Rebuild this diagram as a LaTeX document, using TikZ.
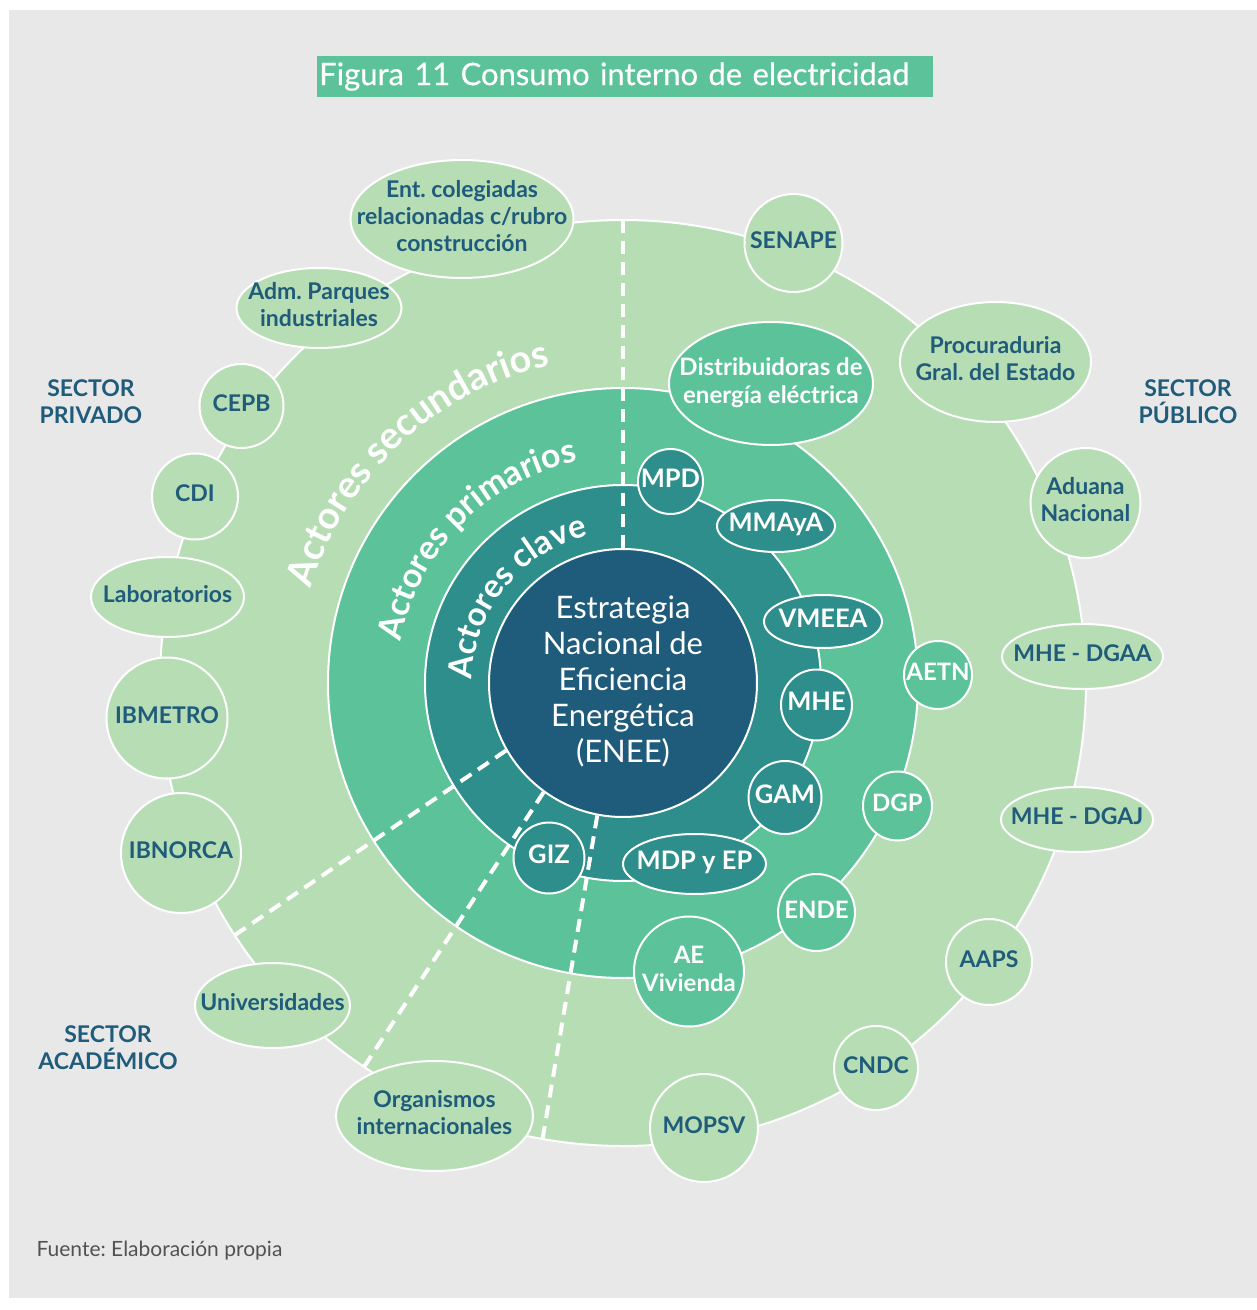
\documentclass[tikz,border=0pt]{standalone}
\usepackage{fontspec}
\setmainfont{Lato}
\newfontfamily\titlefont[FakeBold=0.5, WordSpace=0.8]{Lato}
\usetikzlibrary{shapes.geometric, decorations.text}
\definecolor{paper}{HTML}{E8E8E8}
\definecolor{leaf}{HTML}{B7DDB5}
\definecolor{mint}{HTML}{5CC29A}
\definecolor{sea}{HTML}{2D8E8C}
\definecolor{ink}{HTML}{1F5B7A}
\newcommand{\zw}[1]{\makebox[0pt]{\begin{tabular}{@{}c@{}}#1\end{tabular}}}
\frenchspacing
\tikzset{
    ring-edge/.style = {draw=white, line width=2pt},
    disc/.style = {circle, minimum size=#1},
    oval/.style 2 args = {ellipse, minimum width=#1, minimum height=#2},
    outer-actor/.style = {draw=white, line width=2pt, fill=leaf, text=ink, inner sep=0pt, font=\fontsize{23}{27}\selectfont\bfseries},
    prim-actor/.style = {draw=white, line width=2pt, fill=mint, text=white, inner sep=0pt, font=\fontsize{24}{28}\selectfont\bfseries},
    key-actor/.style = {draw=white, line width=2pt, fill=sea, text=white, inner sep=0pt, font=\fontsize{25.5}{28}\selectfont\bfseries},
    core/.style = {circle, minimum size=268, draw=white, line width=2pt, fill=ink, text=white, inner sep=0pt, font=\fontsize{31}{36}\selectfont},
    split-line/.style = {white, line width=4pt, dash pattern=on 13pt off 8pt},
    sector-label/.style = {text=ink, align=center, font=\fontsize{23}{27}\selectfont\bfseries},
    title-bar/.style = {fill=mint, text=white, font=\titlefont\fontsize{31}{31}\selectfont, minimum height=41, text width=612, align=left, inner xsep=2pt, inner ysep=0pt},
}

\begin{document}
\begin{tikzpicture}[x=1pt, y=1pt]
\useasboundingbox (-623,-627) rectangle (634,683);
\fill[white] (-623,-627) rectangle (634,683);
\fill[paper] (-614,-615) rectangle (634,673);

\node[title-bar, anchor=west] (title) at (-306,606.5) {Figura 11 Consumo interno de electricidad};

% rings
\filldraw[ring-edge, fill=leaf] (0,0) circle[radius=463];
\filldraw[ring-edge, fill=mint] (0,0) circle[radius=295];
\filldraw[ring-edge, fill=sea] (0,0) circle[radius=198];
\node[core] (enee) at (0,0) {\zw{Estrategia\\Nacional de\\Eficiencia\\Energética\\(ENEE)}};

\foreach \a/\b in {90/90, 210/213, 234/236, 259/260}
    \draw[split-line] (enee.\a) -- (\b:463);

\path[decorate, decoration={text along path, text align=center,
    text={|\color{white}\fontsize{38}{38}\selectfont\bfseries|Actores secundarios}}]
    (178:326) arc[start angle=178, end angle=88, radius=326];
\path[decorate, decoration={text along path, text align=center,
    text={|\color{white}\fontsize{34}{34}\selectfont\bfseries|Actores primarios}}]
    (182:226) arc[start angle=182, end angle=89, radius=226];
\path[decorate, decoration={text along path, text align=center,
    text={|\color{white}\fontsize{33}{33}\selectfont\bfseries|Actores clave}}]
    (188:151) arc[start angle=188, end angle=94, radius=151];

% actores secundarios
\node[outer-actor, oval={223}{118}] (ent) at (-161,464) {\zw{Ent. colegiadas\\relacionadas c/rubro\\construcción}};
\node[outer-actor, oval={165}{80}] (adm) at (-304,375) {\zw{Adm. Parques\\industriales}};
\node[outer-actor, disc=84] (cepb) at (-381.5,277) {\zw{CEPB}};
\node[outer-actor, disc=86] (cdi) at (-428,186.5) {\zw{CDI}};
\node[outer-actor, oval={153}{80}] (lab) at (-455.5,86) {\zw{Laboratorios}};
\node[outer-actor, disc=121] (ibmetro) at (-456,-35) {\zw{IBMETRO}};
\node[outer-actor, disc=120] (ibnorca) at (-442,-170) {\zw{IBNORCA}};
\node[outer-actor, oval={155}{85}] (univ) at (-350.5,-322.5) {\zw{Universidades}};
\node[outer-actor, oval={197}{110}] (orgint) at (-188.5,-433) {\zw{Organismos\\internacionales}};
\node[outer-actor, disc=108] (mopsv) at (81,-445) {\zw{MOPSV}};
\node[outer-actor, disc=84] (cndc) at (253,-385) {\zw{CNDC}};
\node[outer-actor, disc=86] (aaps) at (366,-279) {\zw{AAPS}};
\node[outer-actor, oval={152}{65}] (dgaj) at (454,-136.5) {\zw{MHE - DGAJ}};
\node[outer-actor, oval={161}{65}] (dgaa) at (459.5,26.5) {\zw{MHE - DGAA}};
\node[outer-actor, disc=110] (aduana) at (462.5,180) {\zw{Aduana\\Nacional}};
\node[outer-actor, oval={191}{120}] (proc) at (372.5,321) {\zw{Procuraduria\\Gral. del Estado}};
\node[outer-actor, disc=98] (senape) at (170.5,440) {\zw{SENAPE}};

% actores primarios
\node[prim-actor, oval={204}{123}] (dist) at (148,299.5) {\zw{Distribuidoras de\\energía eléctrica}};
\node[prim-actor, disc=68] (aetn) at (315,8) {\zw{AETN}};
\node[prim-actor, disc=69] (dgp) at (274.5,-123) {\zw{DGP}};
\node[prim-actor, disc=77] (ende) at (193.5,-229.5) {\zw{ENDE}};
\node[prim-actor, disc=110] (aev) at (66,-288.5) {\zw{AE\\Vivienda}};

% actores clave
\node[key-actor, disc=65] (mpd) at (47.5,201.5) {\zw{MPD}};
\node[key-actor, oval={118}{52}] (mmaya) at (153,157) {\zw{MMAyA}};
\node[key-actor, oval={118}{53}] (vmeea) at (200,61.5) {\zw{VMEEA}};
\node[key-actor, disc=71] (mhe) at (193.5,-22) {\zw{MHE}};
\node[key-actor, disc=73] (gam) at (162,-114.5) {\zw{GAM}};
\node[key-actor, oval={143}{60}] (mdpep) at (71.5,-181) {\zw{MDP y EP}};
\node[key-actor, disc=71] (giz) at (-74,-175) {\zw{GIZ}};

\node[sector-label] (privado) at (-532,281) {SECTOR\\PRIVADO};
\node[sector-label] (publico) at (565,281) {SECTOR\\PÚBLICO};
\node[sector-label] (academico) at (-515,-365) {SECTOR\\ACADÉMICO};

\node[anchor=west, text=black!68, font=\fontsize{21}{24}\selectfont] (fuente) at (-590,-568) {Fuente: Elaboración propia};
\end{tikzpicture}
\end{document}
